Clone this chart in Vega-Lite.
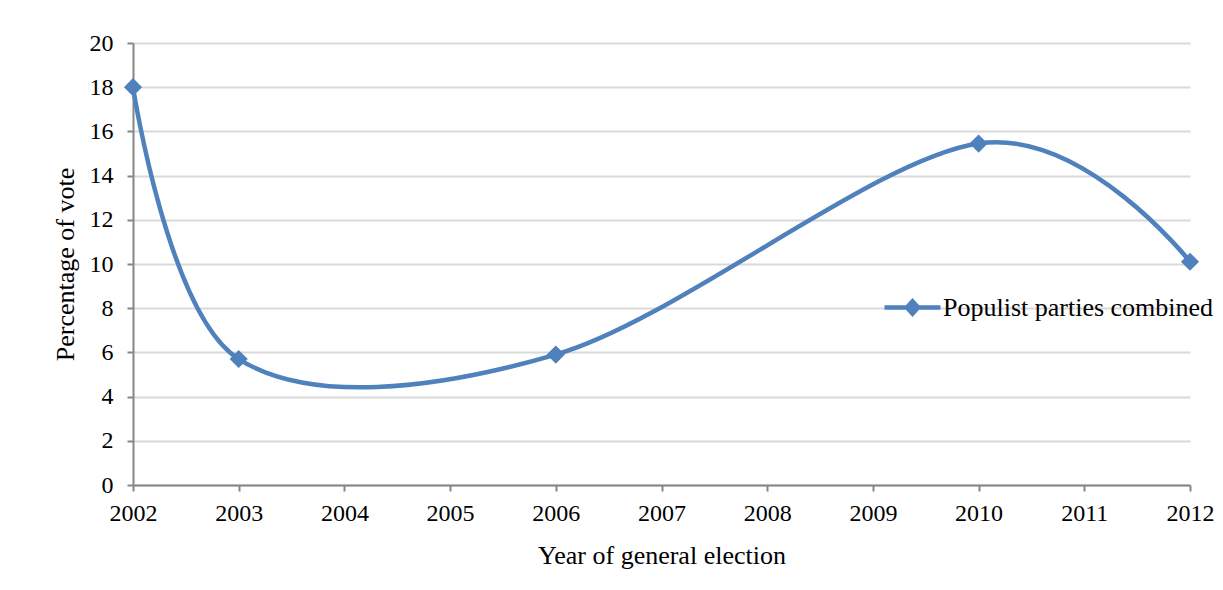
{
  "$schema": "https://vega.github.io/schema/vega-lite/v6.json",
  "width": 1057,
  "height": 442,
  "autosize": {"type": "none"},
  "padding": {"left": 133, "top": 43, "right": 33, "bottom": 105},
  "background": "white",
  "config": {
    "view": {"stroke": null},
    "font": "Liberation Serif",
    "axis": {
      "labelFont": "Liberation Serif",
      "titleFont": "Liberation Serif",
      "labelColor": "#000000",
      "titleColor": "#000000",
      "titleFontWeight": "normal",
      "domainColor": "#868686",
      "domainWidth": 2,
      "tickColor": "#868686",
      "tickWidth": 2,
      "tickSize": 6,
      "gridColor": "#d9d9d9",
      "gridWidth": 2,
      "labelFlush": false,
      "labelOverlap": false
    }
  },
  "data": {
    "values": [
      {"year": 2002, "pct": 18.0, "series": "Populist parties combined"},
      {"year": 2003, "pct": 5.7, "series": "Populist parties combined"},
      {"year": 2006, "pct": 5.9, "series": "Populist parties combined"},
      {"year": 2010, "pct": 15.45, "series": "Populist parties combined"},
      {"year": 2012, "pct": 10.1, "series": "Populist parties combined"}
    ]
  },
  "layer": [
    {
      "mark": {"type": "line", "interpolate": "cardinal", "tension": 0, "strokeWidth": 4.5, "color": "#4F81BD"},
      "encoding": {
        "x": {
          "field": "year", "type": "quantitative",
          "scale": {"domain": [2002, 2012], "nice": false, "zero": false},
          "axis": {
            "values": [2002, 2003, 2004, 2005, 2006, 2007, 2008, 2009, 2010, 2011, 2012],
            "format": "d", "grid": false, "labelFontSize": 24, "labelPadding": 10,
            "title": "Year of general election", "titleFontSize": 26, "titlePadding": 17
          }
        },
        "y": {
          "field": "pct", "type": "quantitative",
          "scale": {"domain": [0, 20], "nice": false},
          "axis": {
            "values": [0, 2, 4, 6, 8, 10, 12, 14, 16, 18, 20],
            "labelFontSize": 24, "labelPadding": 14, "grid": true,
            "title": "Percentage of vote", "titleFontSize": 26, "titlePadding": 11
          }
        }
      }
    },
    {
      "mark": {"type": "point", "shape": "diamond", "filled": true, "size": 330, "opacity": 1},
      "encoding": {
        "x": {"field": "year", "type": "quantitative"},
        "y": {"field": "pct", "type": "quantitative"},
        "color": {
          "field": "series", "type": "nominal",
          "scale": {"range": ["#4F81BD"]},
          "legend": {
            "title": null,
            "orient": "none",
            "legendX": 749,
            "legendY": 234,
            "padding": 0,
            "symbolType": "M-1,0L1,0M0,-0.22L0.2,0L0,0.22L-0.2,0Z",
            "symbolSize": 3136,
            "symbolStrokeWidth": 4.5,
            "symbolStrokeColor": "#4F81BD",
            "symbolFillColor": "#4F81BD",
            "symbolOpacity": 1,
            "labelFont": "Liberation Serif",
            "labelFontSize": 26,
            "labelLimit": 0,
            "labelColor": "#000000",
            "labelOffset": 0,
            "encode": {
              "symbols": {
                "update": {
                  "shape": {"value": "M-1,0L1,0M0,-0.22L0.2,0L0,0.22L-0.2,0Z"},
                  "size": {"value": 3136},
                  "stroke": {"value": "#4F81BD"},
                  "fill": {"value": "#4F81BD"},
                  "strokeWidth": {"value": 4.5},
                  "strokeOpacity": {"value": 1},
                  "fillOpacity": {"value": 1},
                  "opacity": {"value": 1}
                }
              }
            }
          }
        }
      }
    }
  ]
}
